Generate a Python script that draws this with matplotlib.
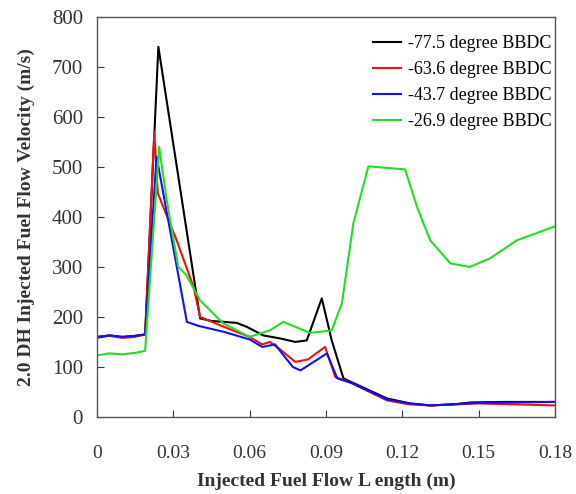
import matplotlib
matplotlib.use("Agg")
import matplotlib.pyplot as plt

plt.rcParams['font.family'] = ['Liberation Serif', 'DejaVu Serif']

# Injected fuel flow velocity along the flow length, one series per crank angle
x_775 = [0, 0.005, 0.01, 0.015, 0.019, 0.0242, 0.0406, 0.045, 0.055, 0.059, 0.0654, 0.072,
         0.078, 0.0825, 0.0884, 0.0923, 0.0969, 0.105, 0.114, 0.123, 0.131, 0.14, 0.147, 0.16, 0.18]
v_775 = [160, 163, 160, 162, 165, 740, 197, 192, 188, 180, 163, 157,
         150, 153, 237, 153, 77, 58, 37, 27, 23, 25, 29, 30, 30]

x_636 = [0, 0.005, 0.01, 0.015, 0.019, 0.0226, 0.024, 0.0314, 0.038, 0.0406, 0.05, 0.06, 0.065,
         0.068, 0.072, 0.078, 0.083, 0.0897, 0.0937, 0.1, 0.114, 0.123, 0.131, 0.15, 0.18]
v_636 = [160, 162, 158, 160, 165, 570, 447, 353, 260, 200, 180, 160, 145,
         150, 135, 110, 115, 140, 80, 68, 33, 25, 23, 27, 23]

x_437 = [0, 0.005, 0.01, 0.015, 0.019, 0.0235, 0.0354, 0.04, 0.05, 0.06, 0.065, 0.07, 0.077,
         0.08, 0.0904, 0.0945, 0.1, 0.114, 0.123, 0.131, 0.15, 0.18]
v_437 = [158, 163, 160, 162, 165, 520, 190, 182, 170, 155, 140, 145, 100,
         93, 127, 77, 68, 35, 27, 23, 28, 30]

x_269 = [0, 0.005, 0.01, 0.015, 0.019, 0.0245, 0.0275, 0.032, 0.035, 0.0406, 0.0497, 0.06,
         0.068, 0.0733, 0.0838, 0.0923, 0.0963, 0.1008, 0.1067, 0.1211, 0.1258, 0.131, 0.1389,
         0.1466, 0.1545, 0.165, 0.18]
v_269 = [123, 127, 125, 128, 132, 540, 433, 300, 285, 233, 187, 160,
         173, 190, 168, 173, 227, 387, 501, 495, 420, 353, 307,
         300, 317, 353, 381]

labels = ['-77.5 degree BBDC', '-63.6 degree BBDC', '-43.7 degree BBDC', '-26.9 degree BBDC']
colors = ['black', '#ee1111', '#1111ee', '#22dd22']

x_ticks = [0, 0.03, 0.06, 0.09, 0.12, 0.15, 0.18]
x_tick_labels = ['0', '0.03', '0.06', '0.09', '0.12', '0.15', '0.18']
y_ticks = [0, 100, 200, 300, 400, 500, 600, 700, 800]

fig = plt.figure(figsize=(5.76, 4.94), dpi=100)
ax = fig.add_axes([0.168, 0.156, 0.7955, 0.81])

for xs, vs, lab, col in zip([x_775, x_636, x_437, x_269], [v_775, v_636, v_437, v_269], labels, colors):
    ax.plot(xs, vs, color=col, lw=1.5, label=lab)

ax.set_xlim(0, 0.18)
ax.set_ylim(0, 800)
ax.set_xticks(x_ticks)
ax.set_xticklabels(x_tick_labels)
ax.set_yticks(y_ticks)
ax.tick_params(direction='in', length=5, width=0.8, colors='#333333')
ax.tick_params(axis='x', pad=20, labelsize=14)
ax.tick_params(axis='y', pad=10, labelsize=15)
for s in ax.spines.values():
    s.set_color('#555555')
    s.set_linewidth(1.0)

ax.set_xlabel('Injected Fuel Flow L ength (m)', fontsize=14, fontweight='bold', color='#333333', labelpad=8)
ax.set_ylabel('2.0 DH Injected Fuel Flow Velocity (m/s)', fontsize=14, fontweight='bold', color='#333333', labelpad=12)

leg = ax.legend(loc='upper right', frameon=False, fontsize=13, handlelength=1.55,
                handletextpad=0.4, labelspacing=0.5, borderpad=0.1, borderaxespad=0.0,
                bbox_to_anchor=(0.997, 0.958))

fig.savefig('out.png', dpi=100)
